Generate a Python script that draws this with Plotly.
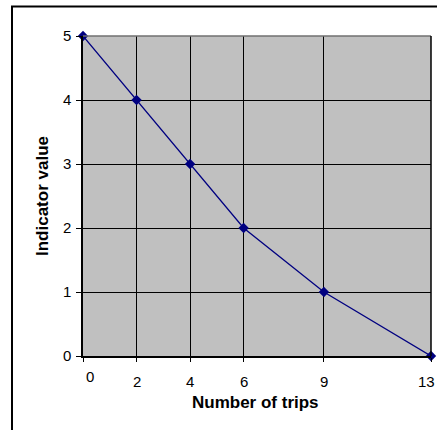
import plotly.graph_objects as go

# Indicator value against number of trips
trips = [0, 2, 4, 6, 9, 13]
indicator = [5, 4, 3, 2, 1, 0]
x_tick_labels = ["0", "2", "4", "6", "9", "13"]
y_ticks = [0, 1, 2, 3, 4, 5]

FONT = "Liberation Sans, Arial, sans-serif"
NAVY = "#000080"
TICK_SIZE = 15
TITLE_SIZE = 17

fig = go.Figure()
fig.add_trace(go.Scatter(
    x=trips, y=indicator,
    mode="lines+markers",
    line=dict(color=NAVY, width=1.3),
    marker=dict(symbol="diamond", size=8, color=NAVY),
    cliponaxis=False,
    showlegend=False,
))

fig.update_layout(
    width=437, height=430,
    margin=dict(l=83, r=6, t=36, b=74),
    paper_bgcolor="white",
    plot_bgcolor="#C0C0C0",
    font=dict(family=FONT, size=TICK_SIZE, color="black"),
    xaxis=dict(
        range=[0, 13], tickvals=trips, showticklabels=False,
        ticks="outside", ticklen=4, tickcolor="black", tickwidth=1,
        showgrid=True, gridcolor="black", gridwidth=1,
        showline=True, linecolor="black", linewidth=1.5,
        zeroline=False, fixedrange=True,
    ),
    yaxis=dict(
        range=[0, 5], tickvals=y_ticks,
        ticks="outside", ticklen=5, tickcolor="black", tickwidth=1,
        ticklabelstandoff=2,
        tickfont=dict(size=TICK_SIZE),
        showgrid=True, gridcolor="black", gridwidth=1,
        showline=True, linecolor="black", linewidth=1.5,
        zeroline=False, fixedrange=True,
    ),
)

# x tick labels placed individually (Excel-style staggering)
label_pos = {"0": dict(xanchor="center", xshift=7, yshift=-20),
             "13": dict(xanchor="right", xshift=6, yshift=-25)}
for xv, txt in zip(trips, x_tick_labels):
    pos = label_pos.get(txt, dict(xanchor="center", xshift=0, yshift=-25))
    fig.add_annotation(
        x=xv, y=0, xref="x", yref="paper", text=txt, showarrow=False,
        yanchor="middle", **pos,
        font=dict(size=TICK_SIZE, family=FONT, color="black"),
    )

# axis titles
fig.add_annotation(
    x=0.497, y=0, xref="paper", yref="paper", yshift=-46,
    text="<b>Number of trips</b>", showarrow=False,
    xanchor="center", yanchor="middle",
    font=dict(size=TITLE_SIZE, family=FONT, color="black"),
)
fig.add_annotation(
    x=0, y=0.5, xref="paper", yref="paper", xshift=-41,
    text="<b>Indicator value</b>", showarrow=False, textangle=-90,
    xanchor="center", yanchor="middle",
    font=dict(size=TITLE_SIZE, family=FONT, color="black"),
)

# gray plot-area border on top, black on the right
fig.add_shape(type="line", xref="paper", yref="paper", x0=0, x1=1, y0=1, y1=1,
              line=dict(color="#707070", width=1.5), layer="above")
fig.add_shape(type="line", xref="paper", yref="paper", x0=1, x1=1, y0=0, y1=1,
              line=dict(color="black", width=1.5), layer="above")

# chart-area frame (extends past the right and bottom edges)
fig.add_shape(type="rect", xref="paper", yref="paper",
              x0=(12 - 83) / 348, x1=(470 - 83) / 348,
              y0=(356 - 470) / 320, y1=(356 - 6.5) / 320,
              line=dict(color="black", width=2), layer="below")

fig.write_html("out.html")
